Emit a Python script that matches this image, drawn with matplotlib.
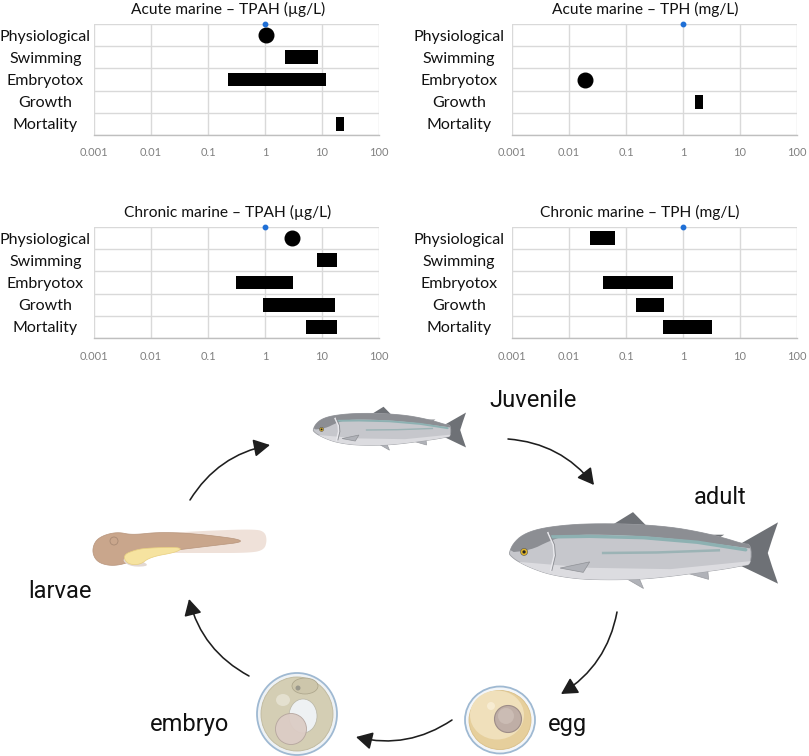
import numpy as np
import matplotlib
matplotlib.use("Agg")
import matplotlib.pyplot as plt
from matplotlib.patches import Polygon, Ellipse, Circle, FancyArrowPatch

# ---------------- data ----------------
categories = ["Physiological", "Swimming", "Embryotox", "Growth", "Mortality"]
tick_values = [0.001, 0.01, 0.1, 1, 10, 100]
tick_labels = ["0.001", "0.01", "0.1", "1", "10", "100"]
ref_value = 1.0
nan = np.nan

titles = ["Acute marine \u2013 TPAH (\u00b5g/L)", "Acute marine \u2013 TPH (mg/L)",
          "Chronic marine \u2013 TPAH (\u00b5g/L)", "Chronic marine \u2013 TPH (mg/L)"]

acute_tpah_low = [nan, 2.2, 0.22, nan, 17.6]
acute_tpah_high = [nan, 8.6, 11.6, nan, 24.6]
acute_tpah_point = [1.05, nan, nan, nan, nan]

acute_tph_low = [nan, nan, nan, 1.64, nan]
acute_tph_high = [nan, nan, nan, 2.27, nan]
acute_tph_point = [nan, nan, 0.019, nan, nan]

chronic_tpah_low = [nan, 8.3, 0.31, 0.92, 5.3]
chronic_tpah_high = [nan, 18.6, 3.06, 16.7, 18.6]
chronic_tpah_point = [2.94, nan, nan, nan, nan]

chronic_tph_low = [0.0237, nan, 0.039, 0.148, 0.45]
chronic_tph_high = [0.063, nan, 0.67, 0.46, 3.27]
chronic_tph_point = [nan, nan, nan, nan, nan]

stage_labels = ["Juvenile", "adult", "egg", "embryo", "larvae"]

# ---------------- figure ----------------
W, H = 809, 756
fig = plt.figure(figsize=(W / 100, H / 100), dpi=100)
fig.patch.set_facecolor("white")

PANEL_FONT = ["Lato", "DejaVu Sans"]
STAGE_FONT = ["Roboto", "DejaVu Sans"]


def px_axes(x0, y0, x1, y1, **kw):
    return fig.add_axes([x0 / W, 1 - y1 / H, (x1 - x0) / W, (y1 - y0) / H], **kw)


# ---------- illustration layer ----------
ill = px_axes(0, 0, W, H)
ill.set_xlim(0, W)
ill.set_ylim(H, 0)
ill.axis("off")
ill.patch.set_alpha(0)


def chaikin(pts, n=3, closed=True):
    pts = np.asarray(pts, float)
    for _ in range(n):
        new = []
        N = len(pts)
        rng = range(N) if closed else range(N - 1)
        for i in rng:
            p = pts[i]
            q = pts[(i + 1) % N]
            new.append(0.75 * p + 0.25 * q)
            new.append(0.25 * p + 0.75 * q)
        pts = np.array(new)
    return pts


def fish(ax, x0, yn, L):
    def T(pts):
        a = np.asarray(pts, float)
        return np.column_stack([x0 + a[:, 0] * L, yn + a[:, 1] * L])

    fin_dark = "#6e7176"
    fin_light = "#b0b2b8"
    tail = [(0.86, -0.034), (1.0, -0.114), (0.978, -0.05), (0.962, 0.0),
            (0.978, 0.05), (1.0, 0.114), (0.86, 0.047)]
    ax.add_patch(Polygon(T(tail), closed=True, fc=fin_dark, ec="none", zorder=2))
    ax.add_patch(Polygon(T([(0.38, -0.102), (0.461, -0.152), (0.515, -0.097)]),
                         fc=fin_dark, ec="none", zorder=2))
    ax.add_patch(Polygon(T([(0.735, -0.068), (0.8, -0.068), (0.77, -0.05)]),
                         fc=fin_dark, ec="none", zorder=2))
    ax.add_patch(Polygon(T([(0.41, 0.08), (0.5, 0.132), (0.478, 0.08)]),
                         fc=fin_light, ec="#999ba0", lw=0.5, zorder=2))
    ax.add_patch(Polygon(T([(0.645, 0.07), (0.742, 0.098), (0.738, 0.055)]),
                         fc=fin_light, ec="#999ba0", lw=0.5, zorder=2))
    body = [(0.0, 0.0), (0.015, -0.035), (0.05, -0.068), (0.11, -0.09), (0.2, -0.103),
            (0.3, -0.109), (0.45, -0.108), (0.6, -0.097), (0.71, -0.078), (0.8, -0.056),
            (0.87, -0.034), (0.9, -0.032), (0.9, 0.042), (0.87, 0.047), (0.8, 0.06),
            (0.71, 0.072), (0.6, 0.087), (0.487, 0.098), (0.35, 0.1), (0.25, 0.096),
            (0.15, 0.08), (0.08, 0.055), (0.03, 0.03), (0.005, 0.01)]
    bpts = T(chaikin(body, 2))
    bp = Polygon(bpts, closed=True, fc="#c6c7cc", ec="#9c9ea3", lw=0.6, zorder=3)
    ax.add_patch(bp)
    belly = Polygon(T([(0, 0.03), (0.3, 0.055), (0.6, 0.06), (0.9, 0.03), (0.9, 0.2), (0, 0.2)]),
                    fc="#dcdce0", ec="none", zorder=3.1)
    ax.add_patch(belly)
    belly.set_clip_path(bp)
    back = [(-0.02, -0.2), (0.95, -0.2), (0.95, -0.01), (0.8, -0.03), (0.6, -0.055),
            (0.4, -0.068), (0.22, -0.068), (0.15, -0.045), (0.08, -0.01), (-0.02, 0.0)]
    bk = Polygon(T(chaikin(back, 2)), closed=True, fc="#8c8e93", ec="none", zorder=3.2)
    ax.add_patch(bk)
    bk.set_clip_path(bp)
    stripe = np.array([(0.16, -0.06), (0.3, -0.062), (0.5, -0.057), (0.7, -0.04), (0.88, -0.012)])
    s = T(stripe)
    ln, = ax.plot(s[:, 0], s[:, 1], color="#8db1b2", lw=max(1.2, L / 110), zorder=3.3,
                  solid_capstyle="round")
    ln.set_clip_path(bp)
    s2 = T(np.array([(0.35, 0.0), (0.55, -0.002), (0.78, -0.01)]))
    ln2, = ax.plot(s2[:, 0], s2[:, 1], color="#9bb3b5", lw=max(1.0, L / 150), zorder=3.3)
    ln2.set_clip_path(bp)
    g = T(np.array([(0.145, -0.075), (0.165, -0.03), (0.168, 0.01), (0.155, 0.065)]))
    ax.plot(g[:, 0], g[:, 1], color="#e8e8ec", lw=1.2, zorder=3.4)
    ax.plot(g[:, 0] + 1.2, g[:, 1], color="#8a8c91", lw=0.6, zorder=3.4)
    ax.add_patch(Polygon(T([(0.19, 0.056), (0.3, 0.033), (0.276, 0.072)]),
                         fc=fin_light, ec="#8f9196", lw=0.5, zorder=3.5))
    ex, ey = x0 + 0.056 * L, yn - 0.004 * L
    ax.add_patch(Circle((ex, ey), 0.013 * L, fc="#e0b52a", ec="#555", lw=0.4, zorder=3.6))
    ax.add_patch(Circle((ex, ey), 0.006 * L, fc="#222", ec="none", zorder=3.7))


fish(ill, 313, 430, 153)
fish(ill, 509, 553, 269)

# larvae
env = chaikin([(152, 534), (200, 531), (255, 529), (265, 532), (267, 541), (264, 550),
               (250, 553), (200, 553), (160, 553)], 3)
ill.add_patch(Polygon(env, closed=True, fc="#efe1d9", ec="none", zorder=2))
lbody = chaikin([(92, 552), (95, 541), (104, 535), (118, 532), (132, 535), (160, 532),
                 (200, 534), (252, 541), (210, 546), (185, 549), (160, 552), (140, 557),
                 (125, 564), (110, 566), (97, 562)], 3)
ill.add_patch(Polygon(lbody, closed=True, fc="#c9a68c", ec="#b8957c", lw=0.5, zorder=3))
ill.add_patch(Polygon(chaikin([(127, 556), (140, 560), (150, 566), (132, 567), (122, 561)], 2),
                      closed=True, fc="#e2d8d2", ec="none", zorder=3.05))
yolk = chaikin([(123, 555), (135, 550), (147, 548), (182, 547), (178, 552), (150, 557),
                (140, 565), (127, 564)], 3)
ill.add_patch(Polygon(yolk, closed=True, fc="#f6e3a0", ec="#e8cf80", lw=0.5, zorder=3.1))
ill.add_patch(Circle((114, 541), 4, fc="none", ec="#a88a74", lw=0.6, zorder=3.2))

# egg
ill.add_patch(Ellipse((500, 720), 70, 67, fc="#f3f6f9", ec="#9fb9d2", lw=1.3, zorder=3))
ill.add_patch(Ellipse((500, 720), 62, 59, fc="#e6cf9c", ec="#d9bf88", lw=0.6, zorder=3.1))
ill.add_patch(Ellipse((497, 715), 54, 49, fc="#f0e0bb", ec="none", zorder=3.15))
ill.add_patch(Circle((508, 719), 13.5, fc="#bfaea6", ec="#9e8d88", lw=0.8, zorder=3.2))
ill.add_patch(Circle((506, 716), 8, fc="#cbbcb4", ec="none", zorder=3.3))
ill.add_patch(Circle((491, 706), 4, fc="#f7ecd2", ec="none", zorder=3.3))

# embryo
ill.add_patch(Ellipse((297, 714), 80, 82, fc="#eef2f5", ec="#9fb9d2", lw=1.3, zorder=3))
ill.add_patch(Ellipse((297, 714), 72, 74, fc="#d4ceb4", ec="#bfb89c", lw=0.6, zorder=3.1))
ill.add_patch(Ellipse((283, 700), 14, 12, fc="#e4e0cf", ec="none", zorder=3.15))
ill.add_patch(Ellipse((303, 716), 28, 34, fc="#eef1f3", ec="#b9b6a5", lw=0.5, zorder=3.2))
ill.add_patch(Circle((291, 729), 15.5, fc="#dcccc5", ec="#b3a39c", lw=0.6, alpha=0.95, zorder=3.3))
ill.add_patch(Ellipse((305, 686), 26, 16, fc="#cdc6ab", ec="#a9a288", lw=0.5, zorder=3.4))
ill.add_patch(Circle((298, 688), 2.5, fc="#9a988c", ec="none", zorder=3.5))

# arrows
arrows = [((190, 500), (270, 445)),
          ((508, 439), (594, 485)),
          ((617, 612), (561, 694)),
          ((452, 720), (356, 737)),
          ((249, 676), (189, 599))]
for (p0, p1) in arrows:
    ill.add_patch(FancyArrowPatch(p0, p1, connectionstyle="arc3,rad=-0.22",
                                  arrowstyle="-|>,head_length=0.55,head_width=0.3",
                                  mutation_scale=18, color="#1e1e1e", lw=1.15,
                                  shrinkA=0, shrinkB=0, zorder=4))

stage_pos = {"Juvenile": (533, 407), "adult": (720, 504), "egg": (567, 731),
             "embryo": (190, 731), "larvae": (60, 598)}
for lab in stage_labels:
    x, y = stage_pos[lab]
    ill.text(x, y, lab, ha="center", va="baseline", fontsize=17, family=STAGE_FONT,
             color="#111111", zorder=5)

# ---------- panels ----------
panels = [
    ((94, 24, 379, 135), acute_tpah_low, acute_tpah_high, acute_tpah_point, 0.47, 35),
    ((512, 24, 797, 135), acute_tph_low, acute_tph_high, acute_tph_point, 0.466, 38),
    ((94, 227, 379, 338), chronic_tpah_low, chronic_tpah_high, chronic_tpah_point, 0.47, 35),
    ((512, 227, 797, 338), chronic_tph_low, chronic_tph_high, chronic_tph_point, 0.45, 38),
]

for i, (box, lo, hi, pt, tx, lpad) in enumerate(panels):
    ax = px_axes(*box)
    ax.set_xscale("log")
    ax.set_xlim(tick_values[0], tick_values[-1])
    y = np.arange(len(categories))
    ax.set_ylim(len(categories) - 0.5, -0.5)
    lo = np.array(lo)
    hi = np.array(hi)
    m = ~np.isnan(lo)
    ax.barh(y[m], hi[m] - lo[m], left=lo[m], height=0.63, color="black", zorder=3)
    p = np.array(pt)
    mp = ~np.isnan(p)
    ax.plot(p[mp], y[mp], "o", color="black", markersize=10.5, zorder=4)
    ax.plot([ref_value], [-0.5], "o", color="#1f6fd6", markersize=3.2, zorder=5, clip_on=False)

    ax.set_xticks(tick_values)
    ax.set_xticklabels(tick_labels)
    ax.xaxis.set_minor_locator(matplotlib.ticker.NullLocator())
    ax.set_yticks(y)
    ax.set_yticklabels(categories)
    ax.set_yticks(np.arange(-0.5, len(categories)), minor=True)
    ax.tick_params(axis="x", length=0, pad=9, labelsize=8, labelcolor="#808080")
    ax.tick_params(axis="y", which="both", length=0, pad=lpad, labelsize=11.5,
                   labelcolor="#111111")
    for t in ax.get_yticklabels():
        t.set_ha("center")
        t.set_family(PANEL_FONT)
    for t in ax.get_xticklabels():
        t.set_family(PANEL_FONT)
    ax.grid(axis="x", which="major", color="#d9d9d9", lw=1.0, zorder=0)
    ax.grid(axis="y", which="minor", color="#d9d9d9", lw=1.0, zorder=0)
    ax.set_axisbelow(True)
    for s in ["top", "left", "right"]:
        ax.spines[s].set_visible(False)
    ax.spines["bottom"].set_color("#bfbfbf")
    ax.spines["bottom"].set_linewidth(1.0)
    ax.set_title(titles[i], x=tx, pad=7, fontsize=11.2, family=PANEL_FONT, color="#111111")

fig.savefig("out.png", dpi=100, facecolor="white")
